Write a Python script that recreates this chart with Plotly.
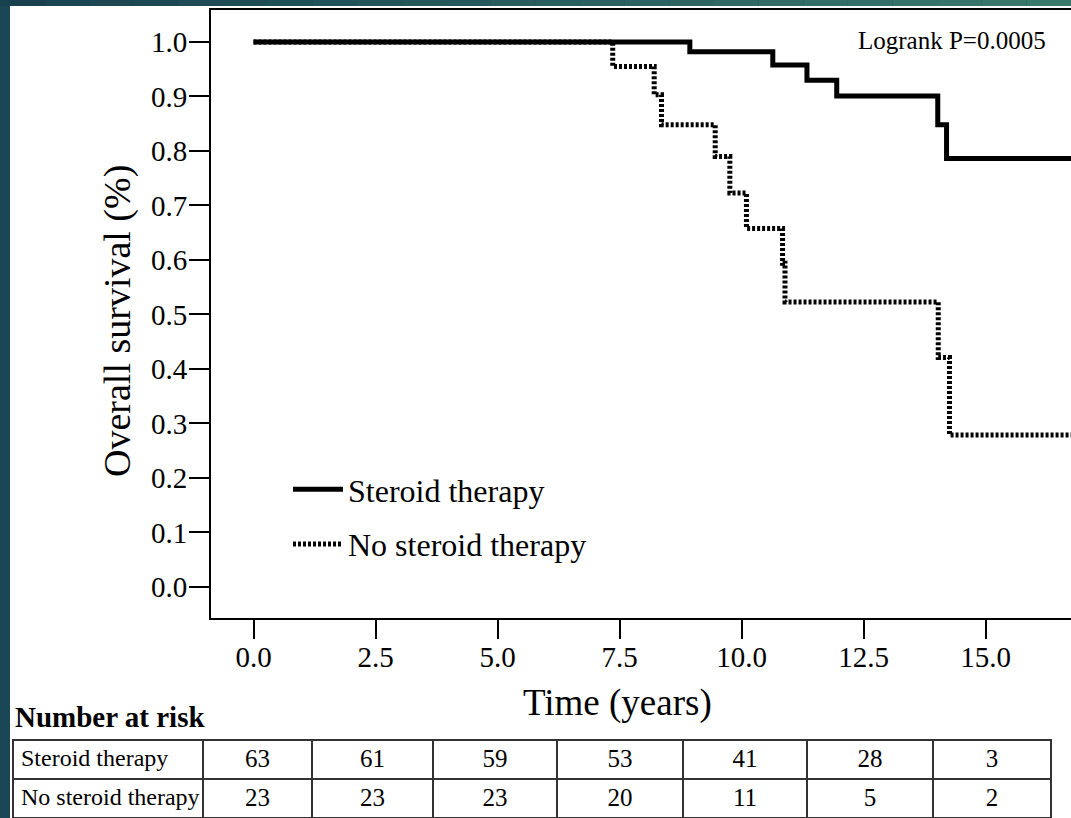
import plotly.graph_objects as go

# ---- data ----
steroid_time = [0, 8.94, 10.64, 11.34, 11.95, 14.02, 14.20, 17.5]
steroid_surv = [1.0, 0.982, 0.958, 0.930, 0.901, 0.848, 0.786, 0.786]

nosteroid_time = [0, 7.36, 8.21, 8.36, 9.46, 9.76, 10.10, 10.84, 10.89, 14.03, 14.26, 17.5]
nosteroid_surv = [1.0, 0.955, 0.903, 0.848, 0.790, 0.723, 0.658, 0.594, 0.523, 0.421, 0.279, 0.279]

x_ticks = [0, 2.5, 5, 7.5, 10, 12.5, 15]
y_ticks = [0.0, 0.1, 0.2, 0.3, 0.4, 0.5, 0.6, 0.7, 0.8, 0.9, 1.0]

risk_groups = ["Steroid therapy", "No steroid therapy"]
risk_steroid = [63, 61, 59, 53, 41, 28, 3]
risk_nosteroid = [23, 23, 23, 20, 11, 5, 2]

W, H = 1071, 818
FONT = "Liberation Serif"


def px(x):
    return x / W


def py(y):
    return (H - y) / H


def nb(s):
    return s.replace(" ", "\u00a0")


fig = go.Figure()

fig.add_trace(go.Scatter(
    x=steroid_time, y=steroid_surv, mode="lines", line_shape="hv",
    line=dict(color="black", width=5), name="Steroid therapy",
    legendgroup="a",
))
fig.add_trace(go.Scatter(
    x=nosteroid_time, y=nosteroid_surv, mode="lines", line_shape="hv",
    line=dict(color="black", width=5, dash="3px,2px"), name="No steroid therapy",
    legendgroup="b",
))

# number-at-risk table
header_vals = [nb(risk_groups[0])] + [str(v) for v in risk_steroid]
cell_vals = [[nb(risk_groups[1])]] + [[str(v)] for v in risk_nosteroid]
tbl_sizes = [24] + [25] * 7
fig.add_trace(go.Table(
    domain=dict(x=[px(13), px(1051)], y=[0, py(740)]),
    columnwidth=[190, 109, 121, 124, 126, 124, 126, 118],
    header=dict(values=header_vals, height=39, fill_color="white",
                line=dict(color="#333333", width=2),
                align=["left"] + ["center"] * 7,
                font=dict(family=FONT, size=tbl_sizes, color="black")),
    cells=dict(values=cell_vals, height=39, fill_color="white",
               line=dict(color="#333333", width=2),
               align=["left"] + ["center"] * 7,
               font=dict(family=FONT, size=tbl_sizes, color="black")),
))

# decorative teal frame (gradient along the top strip)
c0 = (0x17, 0x40, 0x4f)
c1 = (0x3a, 0x7a, 0x6e)
n_seg = 24
shapes = [dict(type="rect", xref="paper", yref="paper", x0=px(10), x1=1.0,
               y0=0, y1=py(6), fillcolor="white", line=dict(width=0), layer="below")]
for i in range(n_seg):
    t = (i + 0.5) / n_seg
    col = "rgb({},{},{})".format(*[round(a + (b - a) * t) for a, b in zip(c0, c1)])
    shapes.append(dict(type="rect", xref="paper", yref="paper",
                       x0=i / n_seg, x1=(i + 1) / n_seg, y0=py(6), y1=1.0,
                       fillcolor=col, line=dict(width=0), layer="below"))

fig.update_layout(
    width=W, height=H,
    margin=dict(l=0, r=0, t=0, b=0),
    paper_bgcolor="#1a4655",
    plot_bgcolor="white",
    font=dict(family=FONT, color="black"),
    showlegend=True,
    legend=dict(x=px(288), y=py(462), xanchor="left", yanchor="top",
                bgcolor="rgba(0,0,0,0)", font=dict(family=FONT, size=32),
                tracegroupgap=10, itemwidth=50),
    xaxis=dict(domain=[px(211), 1.0], range=[-0.871, 16.75],
               tickvals=x_ticks, tickformat=".1f", ticks="outside",
               ticklen=19, tickwidth=2, tickcolor="black",
               ticklabelstandoff=-7,
               showline=True, linecolor="black", linewidth=2, mirror=True,
               showgrid=False, zeroline=False,
               tickfont=dict(family=FONT, size=29)),
    yaxis=dict(domain=[py(618), py(10)], range=[-0.0569, 1.0587],
               tickvals=y_ticks, tickformat=".1f", ticks="outside",
               ticklen=20, tickwidth=2, tickcolor="black",
               ticklabelstandoff=-4,
               showline=True, linecolor="black", linewidth=2, mirror=False,
               showgrid=False, zeroline=False,
               tickfont=dict(family=FONT, size=29)),
    shapes=shapes,
    annotations=[
        dict(text="Time (years)", x=px(617), y=py(703), xref="paper", yref="paper",
             xanchor="center", yanchor="middle", showarrow=False,
             font=dict(family=FONT, size=37)),
        dict(text="Overall survival (%)", x=px(118), y=py(321), xref="paper", yref="paper",
             xanchor="center", yanchor="middle", showarrow=False, textangle=-90,
             font=dict(family=FONT, size=38)),
        dict(text="Logrank P=0.0005", x=px(952), y=py(40), xref="paper", yref="paper",
             xanchor="center", yanchor="middle", showarrow=False,
             font=dict(family=FONT, size=25)),
        dict(text="<b>Number at risk</b>", x=px(13), y=py(717), xref="paper", yref="paper",
             xanchor="left", yanchor="middle", showarrow=False,
             font=dict(family=FONT, size=29)),
    ],
)

fig.write_html("out.html", config={"displayModeBar": False},
               post_script="document.body.style.margin='0';document.body.style.overflow='hidden';")
